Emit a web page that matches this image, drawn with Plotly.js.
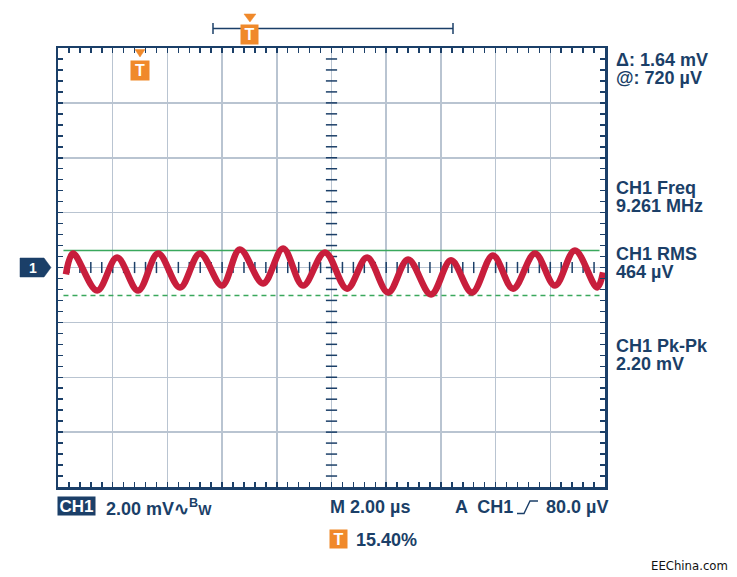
<!DOCTYPE html>
<html><head><meta charset="utf-8">
<script src="https://cdn.plot.ly/plotly-3.0.1.min.js"></script>
<style>html,body{margin:0;padding:0;background:#fff}#chart{width:737px;height:577px}</style>
</head><body><div id="chart"></div>
<script>
// ---- data ----
const timeUs = [0.29,0.55,1.43,2.16,2.93,3.66,4.46,5.19,6.00,6.65,7.50,8.23,8.96,9.76,10.57,11.30,12.07,12.80,13.64,14.37,15.14,15.90,16.64,17.44,18.17,18.90,19.71,19.93];
const ch1mV  = [-0.25,0.51,-0.84,0.36,-0.84,0.51,-0.73,0.51,-0.66,0.66,-0.58,0.69,-0.66,0.55,-0.77,0.36,-0.91,0.29,-0.98,0.26,-0.91,0.44,-0.77,0.51,-0.66,0.62,-0.73,-0.18];
const cursorSpanUs = [0.2, 19.8];
const cursorAmV = 0.62;
const cursorBmV = -1.02;
const triggerPct = 15.40;
const xRangeUs = [0, 20];
const yRangeMV = [-8, 8];
const measPairs = [["Δ: 1.64 mV","@: 720 µV"],["CH1 Freq","9.261 MHz"],["CH1 RMS","464 µV"],["CH1 Pk-Pk","2.20 mV"]];
const chScaleText = "2.00 mV";
const timebaseText = "M 2.00 µs";
const trigSourceText = "A  CH1";
const trigLevelText = "80.0 µV";
const watermark = "EEChina.com";

// ---- style ----
const NAVY = '#1b3f68';
const ORANGE = '#f0892a';
const GRID = '#b9c4d1';
const TRACE = '#c81e3c';
const GREEN = '#3aa85c';
const FONT = 'Liberation Sans, Arial, Helvetica, sans-serif';

const L = 58, R = 605, T = 48, B = 487, W = 737, H = 577;
const X = px => (px - L) / (R - L);
const Y = py => (B - py) / (B - T);

// tick decorations on centre lines
const minorX = [], minorY = [];
for (let v = xRangeUs[0] + 0.4; v < xRangeUs[1] - 0.01; v += 0.4) minorX.push(+v.toFixed(2));
for (let v = yRangeMV[0] + 0.4; v < yRangeMV[1] - 0.01; v += 0.4) minorY.push(+v.toFixed(2));
const midX = (xRangeUs[0] + xRangeUs[1]) / 2;

const traces = [
  {x: minorX, y: minorX.map(() => 0), mode: 'markers', hoverinfo: 'skip',
   marker: {symbol: 'line-ns-open', size: 8, color: NAVY, line: {color: NAVY, width: 1.5}}},
  {x: minorY.map(() => midX), y: minorY, mode: 'markers', hoverinfo: 'skip',
   marker: {symbol: 'line-ew-open', size: 8, color: NAVY, line: {color: NAVY, width: 1.5}}},
  {x: cursorSpanUs, y: [cursorAmV, cursorAmV], mode: 'lines', line: {color: GREEN, width: 1.6}, hoverinfo: 'skip'},
  {x: cursorSpanUs, y: [cursorBmV, cursorBmV], mode: 'lines', line: {color: GREEN, width: 1.6, dash: '5px,4px'}, hoverinfo: 'skip'},
  {x: timeUs, y: ch1mV, mode: 'lines', line: {color: TRACE, width: 6.5, shape: 'spline', smoothing: 1}, hoverinfo: 'skip'}
];

const axisCommon = {
  showgrid: true, gridcolor: GRID, gridwidth: 1.5, zeroline: false,
  showline: true, linecolor: NAVY, linewidth: 2.5, mirror: 'ticks',
  ticks: 'inside', ticklen: 5, tickwidth: 1.5, tickcolor: NAVY,
  showticklabels: false, fixedrange: true
};

const shapes = [];
const anns = [];
function path(pts, opts) {
  const d = pts.map((p, i) => (i ? 'L' : 'M') + X(p[0]).toFixed(5) + ',' + Y(p[1]).toFixed(5)).join(' ') + (opts && opts.close ? ' Z' : '');
  shapes.push(Object.assign({type: 'path', xref: 'paper', yref: 'paper', path: d,
    line: {color: (opts && opts.line) || NAVY, width: (opts && opts.lw) || 1.5},
    fillcolor: (opts && opts.fill) || 'rgba(0,0,0,0)'}));
}
function ann(text, px, py, o) {
  o = o || {};
  anns.push({text: text, xref: 'paper', yref: 'paper', x: X(px), y: Y(py),
    xanchor: o.xanchor || 'left', yanchor: 'middle', showarrow: false,
    font: {family: o.family || FONT, size: o.size || 18, color: o.color || NAVY, weight: o.weight || 'bold'},
    bgcolor: o.bg, width: o.w, height: o.h, borderpad: o.pad === undefined ? 0 : o.pad, align: o.align || 'center'});
}

// top record bar with trigger position
const barL = 213, barR = 453;
const barT = barL + (barR - barL) * triggerPct / 100;
path([[barL, 28.5], [barR, 28.5]]);
path([[barL, 23], [barL, 34]]);
path([[barR, 23], [barR, 34]]);
path([[barT - 6, 14], [barT + 6, 14], [barT, 22]], {close: true, fill: ORANGE, line: ORANGE, lw: 0.5});
ann('T', barT, 34.5, {xanchor: 'center', bg: ORANGE, color: '#fff', w: 17, h: 19, size: 16});

// trigger marker in plot
const trigPx = 140;
path([[trigPx - 5, 49.5], [trigPx + 5, 49.5], [trigPx, 57]], {close: true, fill: ORANGE, line: ORANGE, lw: 0.5});
ann('T', trigPx, 70.5, {xanchor: 'center', bg: ORANGE, color: '#fff', w: 18, h: 19, size: 16});

// channel marker
path([[20, 258], [44, 258], [51, 267.5], [44, 277], [20, 277]], {close: true, fill: NAVY, line: NAVY, lw: 0.5});
ann('1', 33, 268, {xanchor: 'center', color: '#fff', size: 14});

// right measurements (two lines each, tight line pitch)
const measY = [68.5, 197, 263, 354.5];
measPairs.forEach((p, i) => ann('<span style="font-size:18px">' + p[0] + '</span><br><span style="font-size:18px">' + p[1] + '</span>',
  615, measY[i], {size: 14, align: 'left'}));

// bottom status line
ann('CH1', 76.5, 506, {xanchor: 'center', bg: NAVY, color: '#fff', w: 37, h: 18, size: 17});
ann(chScaleText + '∿<sup>B</sup><span style="font-size:14px">W</span>', 105, 507);
ann(timebaseText, 329, 507);
ann(trigSourceText, 454, 507);
path([[517, 513.5], [524, 513.5], [530, 501], [538, 501]], {lw: 1.4});
ann(trigLevelText, 609, 507, {xanchor: 'right'});
ann('T', 338.5, 539, {xanchor: 'center', bg: ORANGE, color: '#fff', w: 17, h: 18, size: 16});
ann(triggerPct.toFixed(2) + '%', 355, 540);
ann(watermark, 729, 565, {xanchor: 'right', size: 13, color: '#111', weight: 'normal', family: 'Liberation Sans Narrow, DejaVu Sans Condensed, Arial Narrow, sans-serif'});

const layout = {
  width: W, height: H,
  margin: {l: L, r: W - R, t: T, b: H - B, pad: 0},
  paper_bgcolor: '#fff', plot_bgcolor: '#fff',
  showlegend: false,
  xaxis: Object.assign({}, axisCommon, {range: xRangeUs, dtick: 2, tick0: 0,
    minor: {dtick: 0.4, tick0: 0, ticks: 'inside', ticklen: 5, tickwidth: 1.5, tickcolor: NAVY, showgrid: false}}),
  yaxis: Object.assign({}, axisCommon, {range: yRangeMV, dtick: 2, tick0: 0,
    minor: {dtick: 0.4, tick0: 0, ticks: 'inside', ticklen: 5, tickwidth: 1.5, tickcolor: NAVY, showgrid: false}}),
  shapes: shapes,
  annotations: anns
};

Plotly.newPlot('chart', traces, layout, {displayModeBar: false, staticPlot: true});
</script>
</body></html>
